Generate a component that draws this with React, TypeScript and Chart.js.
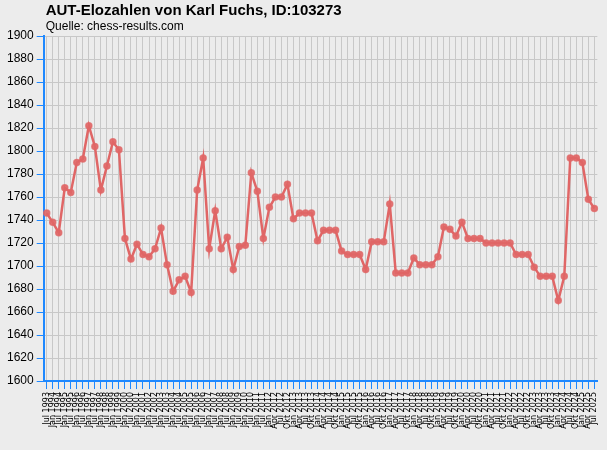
import { useEffect, useRef } from "react"
import { Chart, registerables } from "chart.js"

Chart.register(...registerables)

const titel = "AUT-Elozahlen von Karl Fuchs, ID:103273"
const quelle = "Quelle: chess-results.com"

const monate = [
  "Jul 1993", "Jan 1994", "Jul 1994", "Jan 1995", "Jul 1995", "Jan 1996", "Jul 1996",
  "Jan 1997", "Jul 1997", "Jan 1998", "Jul 1998", "Jan 1999", "Jul 1999", "Jan 2000",
  "Jul 2000", "Jan 2001", "Jul 2001", "Jan 2002", "Jul 2002", "Jan 2003", "Jul 2003",
  "Jan 2004", "Jul 2004", "Jan 2005", "Jul 2005", "Jan 2006", "Jul 2006", "Jan 2007",
  "Jul 2007", "Jan 2008", "Jul 2008", "Jan 2009", "Jul 2009", "Jan 2010", "Jul 2010",
  "Jan 2011", "Jul 2011",
  "Jan 2012", "Apr 2012", "Jul 2012", "Okt 2012",
  "Jan 2013", "Apr 2013", "Jul 2013", "Okt 2013",
  "Jan 2014", "Apr 2014", "Jul 2014", "Okt 2014",
  "Jan 2015", "Apr 2015", "Jul 2015", "Okt 2015",
  "Jan 2016", "Apr 2016", "Jul 2016", "Okt 2016",
  "Jan 2017", "Apr 2017", "Jul 2017", "Okt 2017",
  "Jan 2018", "Apr 2018", "Jul 2018", "Okt 2018",
  "Jan 2019", "Apr 2019", "Jul 2019", "Okt 2019",
  "Jan 2020", "Apr 2020", "Jul 2020", "Okt 2020",
  "Jan 2021", "Apr 2021", "Jul 2021", "Okt 2021",
  "Jan 2022", "Apr 2022", "Jul 2022", "Okt 2022",
  "Jan 2023", "Apr 2023", "Jul 2023", "Okt 2023",
  "Jan 2024", "Apr 2024", "Jul 2024", "Okt 2024",
  "Jan 2025", "Apr 2025", "Jul 2025",
]

const elo = [
  1746, 1738, 1729, 1768, 1764, 1790, 1793, 1822, 1804, 1766,
  1787, 1808, 1801, 1724, 1706, 1719, 1710, 1708, 1715, 1733,
  1701, 1678, 1688, 1691, 1677, 1766, 1794, 1715, 1748, 1715,
  1725, 1697, 1717, 1718, 1781, 1765, 1724, 1751, 1760, 1760,
  1771, 1741, 1746, 1746, 1746, 1722, 1731, 1731, 1731, 1713,
  1710, 1710, 1710, 1697, 1721, 1721, 1721, 1754, 1694, 1694,
  1694, 1707, 1701, 1701, 1701, 1708, 1734, 1732, 1726, 1738,
  1724, 1724, 1724, 1720, 1720, 1720, 1720, 1720, 1710, 1710,
  1710, 1699, 1691, 1691, 1691, 1670, 1691, 1794, 1794, 1790,
  1758, 1750,
]

const blau = "#1E88FF"
const gitter = "#C8C8C8"
const rot = "#E06666"

// Titel und Quelle links über der Zeichenfläche
const kopfzeile = {
  id: "kopfzeile",
  afterDraw(chart: Chart) {
    const { ctx, chartArea } = chart
    ctx.save()
    ctx.fillStyle = "#000"
    ctx.textBaseline = "middle"
    ctx.font = "bold 15px 'Liberation Sans', Arial, sans-serif"
    ctx.fillText(titel, chartArea.left + 2, 11)
    ctx.font = "12px 'Liberation Sans', Arial, sans-serif"
    ctx.fillText(quelle, chartArea.left + 2, 27)
    ctx.restore()
  },
}

export default function App() {
  const chartRef = useRef<HTMLCanvasElement>(null)
  const chartInstance = useRef<Chart | null>(null)

  useEffect(() => {
    if (!chartRef.current) return
    if (chartInstance.current) chartInstance.current.destroy()

    const ctx = chartRef.current.getContext("2d")
    if (!ctx) return

    chartInstance.current = new Chart(ctx, {
      type: "line",
      data: {
        labels: monate,
        datasets: [
          {
            label: "Elo",
            data: elo,
            borderColor: rot,
            backgroundColor: "rgba(224,102,102,0.85)",
            borderWidth: 2.5,
            pointRadius: 3,
            pointBorderWidth: 1.5,
            pointBorderColor: "rgba(224,102,102,0.8)",
            pointBackgroundColor: "rgba(224,102,102,0.9)",
            tension: 0,
          },
        ],
      },
      options: {
        responsive: true,
        maintainAspectRatio: false,
        animation: false,
        layout: { padding: { top: 36, left: 4, right: 4, bottom: 18 } },
        plugins: {
          legend: { display: false },
          tooltip: { enabled: false },
        },
        scales: {
          x: {
            offset: true,
            grid: { color: gitter, tickColor: blau, tickLength: 8, offset: false, lineWidth: 1 },
            border: { color: blau, width: 2 },
            ticks: {
              autoSkip: false,
              maxRotation: 90,
              minRotation: 90,
              padding: 3,
              color: "#000",
              font: { family: "'DejaVu Sans', sans-serif", size: 8 },
            },
          },
          y: {
            min: 1600,
            max: 1900,
            grid: { color: gitter, tickColor: blau, tickLength: 7, lineWidth: 1 },
            border: { color: blau, width: 2 },
            ticks: {
              stepSize: 20,
              padding: 3,
              color: "#000",
              font: { family: "'Liberation Sans', Arial, sans-serif", size: 12 },
              callback: (value) => String(value),
            },
          },
        },
      },
      plugins: [kopfzeile],
    })

    return () => {
      if (chartInstance.current) {
        chartInstance.current.destroy()
        chartInstance.current = null
      }
    }
  }, [])

  return (
    <div style={{ position: "fixed", left: 0, top: 0, width: 607, height: 450, background: "#ECECEC" }}>
      <canvas ref={chartRef}></canvas>
    </div>
  )
}
